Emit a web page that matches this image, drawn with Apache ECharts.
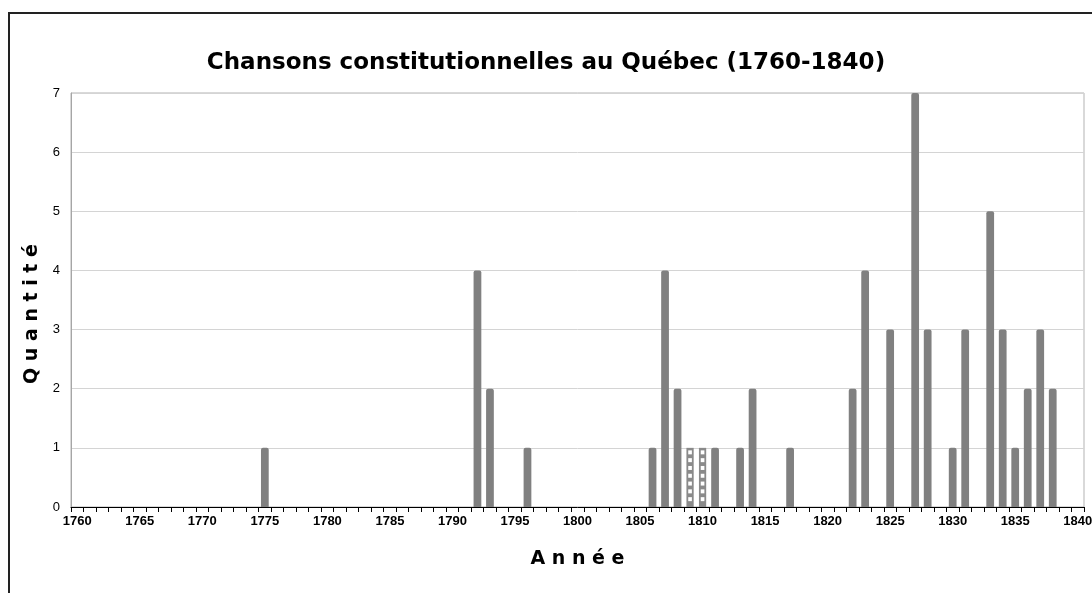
<!DOCTYPE html>
<html>
<head>
<meta charset="utf-8">
<script src="https://cdn.jsdelivr.net/npm/echarts@6/dist/echarts.min.js"></script>
<style>
html, body { margin: 0; padding: 0; background: #fff; }
#chart { width: 1092px; height: 593px; }
</style>
</head>
<body>
<div id="chart"></div>
<script>
// annees 1760 -> 1840
var years = [];
for (var y = 1760; y <= 1840; y++) years.push(String(y));

// barres pleines
var solidYears  = ['1775','1792','1793','1796','1806','1807','1808','1811','1813','1814','1817','1822','1823','1825','1827','1828','1830','1831','1833','1834','1835','1836','1837','1838'];
var solidCounts = [1, 4, 2, 1, 1, 4, 2, 1, 1, 2, 1, 2, 4, 3, 7, 3, 1, 3, 5, 3, 1, 2, 3, 2];

// barres pointillees
var dottedYears  = ['1809','1810'];
var dottedCounts = [1, 1];

var yTicks = [0, 1, 2, 3, 4, 5, 6, 7];

var solidData = years.map(function (yr) {
    var i = solidYears.indexOf(yr);
    return i >= 0 ? solidCounts[i] : null;
});
var dottedData = dottedYears.map(function (yr, i) {
    return [years.indexOf(yr), dottedCounts[i]];
});

var myChart = echarts.init(document.getElementById('chart'));
var option = {
    animation: false,
    backgroundColor: '#fff',
    title: {
        text: 'Chansons constitutionnelles au Québec (1760-1840)',
        left: 'center',
        top: 47,
        textStyle: { fontFamily: 'DejaVu Sans', fontWeight: 'bold', fontSize: 23, color: '#000' }
    },
    graphic: [{
        type: 'rect',
        shape: { x: 9, y: 13, width: 1200, height: 1000 },
        style: { fill: 'none', stroke: '#222', lineWidth: 2 },
        silent: true
    }],
    grid: {
        left: 71, right: 8, top: 93, bottom: 86,
        containLabel: false,
        outerBoundsMode: 'none',
        show: true, borderColor: '#b3b3b3', borderWidth: 1
    },
    xAxis: {
        type: 'category',
        data: years,
        name: 'A n n é e',
        nameLocation: 'middle',
        nameGap: 43,
        nameTextStyle: { fontFamily: 'DejaVu Sans', fontWeight: 'bold', fontSize: 19, color: '#000' },
        axisLine: { lineStyle: { color: '#000', width: 1 } },
        axisTick: { show: true, interval: 0, length: 5, lineStyle: { color: '#000' } },
        axisLabel: {
            interval: 4, margin: 8,
            fontFamily: 'Liberation Sans', fontWeight: 'bold', fontSize: 13, color: '#000'
        }
    },
    yAxis: {
        type: 'value',
        min: yTicks[0], max: yTicks[yTicks.length - 1], interval: 1,
        name: 'Q u a n t i t é',
        nameLocation: 'middle',
        nameGap: 29,
        nameRotate: 90,
        nameTextStyle: {
            fontFamily: 'DejaVu Sans', fontWeight: 'bold', fontSize: 19, color: '#000',
            padding: [0, 28, 0, 0]
        },
        axisLine: { show: true, lineStyle: { color: '#a6a6a6' } },
        axisTick: { show: false },
        axisLabel: { margin: 11, fontFamily: 'Liberation Sans', fontSize: 13, color: '#000' },
        splitLine: { lineStyle: { color: '#d4d4d4' } }
    },
    series: [
        {
            type: 'bar',
            data: solidData,
            barWidth: '62%',
            itemStyle: { color: '#808080', borderRadius: [2, 2, 0, 0] }
        },
        {
            type: 'custom',
            data: dottedData,
            encode: { x: 0, y: 1 },
            renderItem: function (params, api) {
                var top = api.coord([api.value(0), api.value(1)]);
                var base = api.coord([api.value(0), 0]);
                var w = api.size([1, 0])[0] * 0.58;
                var x0 = top[0] - w / 2;
                var children = [{
                    type: 'rect',
                    shape: { x: x0, y: top[1], width: w, height: base[1] - top[1] },
                    style: { fill: '#8a8a8a' }
                }];
                for (var yy = top[1] + 2.5; yy + 4 < base[1]; yy += 7.8) {
                    children.push({
                        type: 'rect',
                        shape: { x: x0 + 1.8, y: yy, width: w - 3.6, height: 4 },
                        style: { fill: '#fff' }
                    });
                }
                return { type: 'group', children: children };
            }
        }
    ]
};
myChart.setOption(option);
</script>
</body>
</html>
